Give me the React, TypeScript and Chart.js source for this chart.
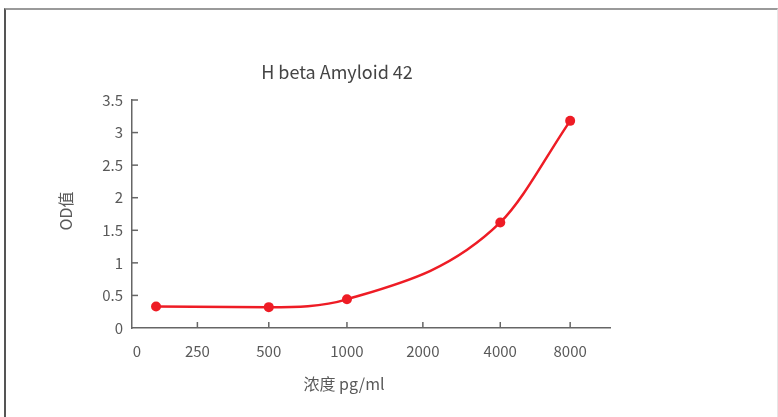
import React, { useEffect, useRef } from "react";
import { Chart, registerables } from "chart.js";

Chart.register(...registerables);

// Tick labels of the concentration axis and where they sit along it (category-index units)
const categories = ["0", "250", "500", "1000", "2000", "4000", "8000"];
const categoryPos = [0.205, 1.01, 1.96, 3.0, 4.01, 5.04, 5.97];

// Measured points (axis position, OD value)
const pointPos = [0.46, 1.96, 3.0, 5.04, 5.97];
const odValues = [0.33, 0.32, 0.44, 1.62, 3.18];

const chartTitle = "H beta Amyloid 42";
const xTitle = "浓度 pg/ml";
const yTitle = "OD值";

const FONT = "'Noto Sans CJK SC', 'Noto Sans', sans-serif";
const AXIS = "#666666";
const TEXT = "#595959";
const RED = "#ee1c25";

const decorPlugin = {
  id: "decor",
  afterDraw(chart: any) {
    const ctx = chart.ctx;
    const x = chart.scales.x;
    const y = chart.scales.y;
    const area = chart.chartArea;
    ctx.save();
    ctx.strokeStyle = AXIS;
    ctx.lineWidth = 1.5;
    // inward tick marks
    categoryPos.forEach((v, i) => {
      if (i === 0) return;
      const px = x.getPixelForValue(v);
      ctx.beginPath();
      ctx.moveTo(px, area.bottom);
      ctx.lineTo(px, area.bottom - 6);
      ctx.stroke();
    });
    y.ticks.forEach((t: any) => {
      if (t.value === 0) return;
      const py = y.getPixelForValue(t.value);
      ctx.beginPath();
      ctx.moveTo(area.left, py);
      ctx.lineTo(area.left + 6, py);
      ctx.stroke();
    });
    // titles
    ctx.fillStyle = "#444444";
    ctx.textAlign = "center";
    ctx.textBaseline = "middle";
    ctx.font = `18px ${FONT}`;
    ctx.fillText(chartTitle, 337, 72);
    ctx.fillStyle = TEXT;
    ctx.font = `16px ${FONT}`;
    ctx.fillText(xTitle, 344, 384);
    ctx.translate(66, 211);
    ctx.rotate(-Math.PI / 2);
    ctx.fillText(yTitle, 0, 0);
    ctx.restore();
  },
};

export default function App() {
  const ref = useRef<HTMLCanvasElement>(null);

  useEffect(() => {
    document.body.style.margin = "0";
    document.body.style.overflow = "hidden";
    const canvas = ref.current!;
    const chart = new Chart(canvas, {
      type: "line",
      data: {
        datasets: [
          {
            data: pointPos.map((p, i) => ({ x: p, y: odValues[i] })),
            borderColor: RED,
            backgroundColor: RED,
            borderWidth: 2.5,
            cubicInterpolationMode: "monotone",
            pointRadius: 5,
            pointHoverRadius: 5,
            pointBackgroundColor: RED,
            pointBorderColor: RED,
            pointBorderWidth: 0,
            fill: false,
            clip: false as any,
          },
        ],
      },
      options: {
        responsive: false,
        animation: false,
        events: [],
        layout: { padding: { left: 0, top: 100, right: 168, bottom: 0 } },
        plugins: {
          legend: { display: false },
          title: { display: false },
          tooltip: { enabled: false },
        },
        scales: {
          x: {
            type: "linear",
            min: 0.14,
            max: 6.5,
            grid: { display: false, drawTicks: false },
            border: { display: true, color: AXIS, width: 1.5 },
            afterBuildTicks: (scale: any) => {
              scale.ticks = categoryPos.map((v) => ({ value: v }));
            },
            afterFit: (scale: any) => {
              scale.height = 89;
            },
            ticks: {
              autoSkip: false,
              maxRotation: 0,
              padding: 14,
              color: TEXT,
              font: { family: FONT, size: 15 },
              callback: (_v: any, i: number) => categories[i],
            },
          },
          y: {
            type: "linear",
            min: 0,
            max: 3.5,
            grid: { display: false, drawTicks: false },
            border: { display: true, color: AXIS, width: 1.5 },
            afterFit: (scale: any) => {
              scale.width = 132;
            },
            ticks: {
              stepSize: 0.5,
              padding: 9,
              color: TEXT,
              font: { family: FONT, size: 15 },
              callback: (v: any) => String(Number(v)),
            },
          },
        },
      },
      plugins: [decorPlugin],
    });
    return () => chart.destroy();
  }, []);

  return (
    <div
      style={{
        position: "fixed",
        left: 0,
        top: 0,
        width: 778,
        height: 417,
        overflow: "hidden",
        background: "#fff",
      }}
    >
      <div
        style={{
          position: "absolute",
          left: 4,
          top: 8,
          width: 771,
          height: 430,
          borderTop: "2px solid #9a9a9a",
          borderLeft: "2px solid #555",
          borderRight: "1px solid #e6e6e6",
        }}
      />
      <canvas
        ref={ref}
        width={778}
        height={417}
        style={{ position: "absolute", left: 0, top: 0, width: 778, height: 417 }}
      />
    </div>
  );
}
